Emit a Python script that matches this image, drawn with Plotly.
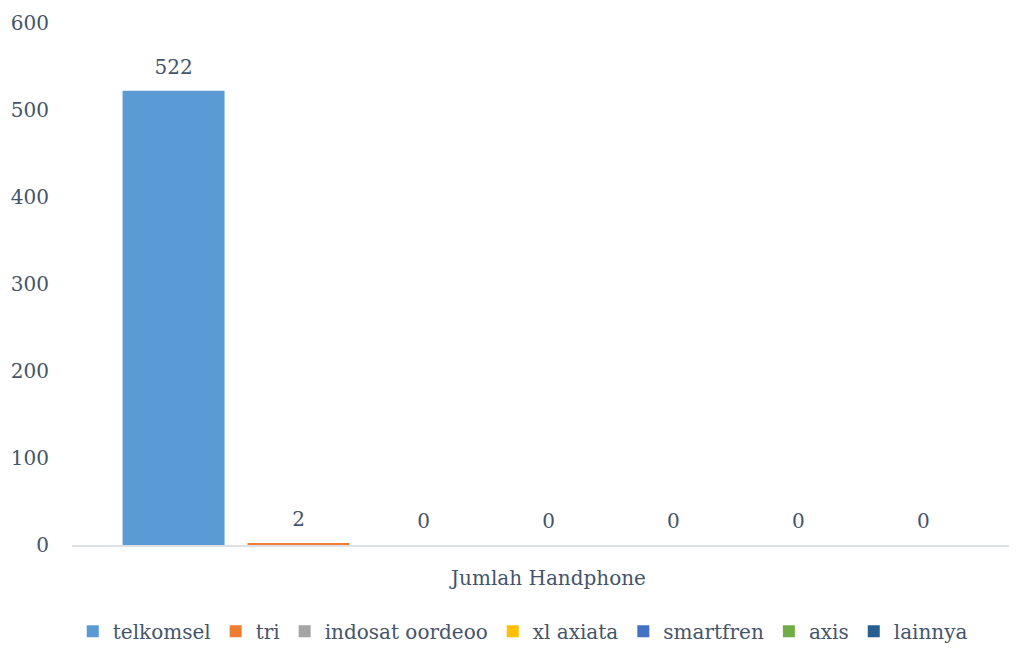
import plotly.graph_objects as go

# data
category = ["Jumlah Handphone"]
operators = ["telkomsel", "tri", "indosat oordeoo", "xl axiata", "smartfren", "axis", "lainnya"]
counts = [522, 2, 0, 0, 0, 0, 0]
colors = ["#5B9BD5", "#ED7D31", "#A5A5A5", "#FFC000", "#4472C4", "#70AD47", "#255E91"]

text_color = "#44546A"
font_family = "DejaVu Serif"

fig = go.Figure()

for name, val, col in zip(operators, counts, colors):
    fig.add_trace(go.Bar(
        x=category,
        y=[val],
        name=name,
        marker=dict(color=col, line=dict(width=0)),
        # a short blank line under the number lifts it off the bar
        text=[f"<span style='font-size:20px'>{val}</span><br> "],
        textposition="outside",
        cliponaxis=False,
        textfont=dict(size=9, color=text_color, family=font_family),
    ))

# page body has an 8px margin, so the figure is pulled up/left by that much
fig.update_layout(
    width=1017,
    height=653,
    margin=dict(l=64, r=0, t=15, b=116, autoexpand=False),
    plot_bgcolor="white",
    paper_bgcolor="white",
    barmode="group",
    bargap=0.082,
    bargroupgap=0.184,
    font=dict(family=font_family, size=20, color=text_color),
    showlegend=True,
    legend=dict(
        orientation="h",
        x=0.473,
        xanchor="center",
        y=-0.165,
        yanchor="middle",
        font=dict(size=20, color=text_color),
        itemwidth=30,
    ),
    xaxis=dict(
        showline=True,
        linecolor="#DDE1E6",
        linewidth=2,
        showgrid=False,
        ticks="",
        ticklabelstandoff=14,
    ),
    yaxis=dict(
        range=[0, 600],
        dtick=100,
        showgrid=False,
        zeroline=False,
        showline=False,
        ticklabelstandoff=22,
    ),
)

fig.write_html("out.html")
